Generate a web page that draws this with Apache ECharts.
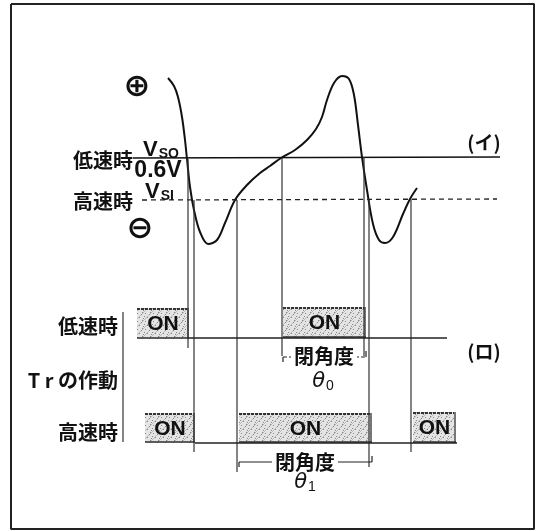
<!DOCTYPE html>
<html><head><meta charset="utf-8">
<script src="https://cdn.jsdelivr.net/npm/echarts@6/dist/echarts.min.js"></script>
<style>html,body{margin:0;padding:0;background:#fff}#c{width:540px;height:531px}</style>
</head><body><div id="c"></div>
<script>
// ---- diagram data (diagram units: x = time/angle position, y = signal level position, top = 0) ----
const curvePoints = [[168,78],[174,86],[178,97],[182,117],[185,140],[187,159],[190,187],[194,210],[200,232],[208,244],[217,240],[225,223],[235,200],[247,185],[260,173],[270,166],[281,158],[295,150],[307,140],[316,129],[322,117],[327,100],[334,83],[342,76],[349,79],[354,95],[358,125],[362,157],[367,190],[373,224],[379,240],[385,243],[393,237],[403,214],[410,199],[417,188]];
const vsoLine = [[133,158],[500,157]];          // low-speed threshold (Vso = 0.6V)
const vs1Line = [[142,200],[497,199]];          // high-speed threshold (Vs1)
const verticals = [[188,159,348],[194,200,452],[237,200,472],[282,158,356],[364,157,356],[369,200,467],[411,199,452]]; // [x, yTop, yBottom]
const lowBase = [[188,338],[447,338]];
const highBase = [[195,443],[457,443]];
const lowOn = [[137,189,308,339],[283,366,307,338]];            // [x1,x2,y1,y2]
const highOn = [[145,195,413,443],[239,372,413,443],[413,456,412,443]];
const bracket0 = [283,366,357];   // θ0 closed-angle span
const bracket1 = [239,372,462];   // θ1 closed-angle span
const sideBracket = [[123,312],[123,442]];
const frame = [[11,4],[534,4],[534,529],[11,529],[11,4]];
const rightLabels = [['低速時',133,160],['高速時',133,201],['低速時',118,326],['T r の作動',118,380],['高速時',118,432]];
const centerLabels = [['0.6V',158,171],['(イ)',484,143],['(ロ)',484,352]];
const signLabels = [['⊕',137,87],['⊖',140,229]];
const vLabels = [['SO',143,150],['SI',145,192]];
const angleLabels = [['閉角度',324,356],['閉角度',305,462]];
const thetaLabels = [['0',323,382],['1',305,483]];

// ---- pattern for ON boxes ----
function makePattern(){
  const c=document.createElement('canvas'); c.width=8; c.height=8;
  const g=c.getContext('2d');
  g.fillStyle='#e4e4e4'; g.fillRect(0,0,8,8);
  g.fillStyle='#8a8a8a';
  [[1,1],[5,2],[3,5],[7,6],[0,4],[6,0]].forEach(p=>g.fillRect(p[0],p[1],1,1));
  g.strokeStyle='rgba(120,120,120,0.55)'; g.lineWidth=0.7;
  g.beginPath(); g.moveTo(0,8); g.lineTo(8,0); g.stroke();
  return c;
}
const pat = {image: makePattern(), repeat:'repeat'};

const chart = echarts.init(document.getElementById('c'));
const lineBase = {type:'line', showSymbol:false, symbol:'none', animation:false, silent:true};
const series = [];
function seg(data, color, width, dash){
  series.push(Object.assign({}, lineBase, {data, lineStyle:{color, width, type: dash||'solid'}}));
}
seg(frame,'#222',2);
series.push(Object.assign({}, lineBase, {data:curvePoints, smooth:0.35, lineStyle:{color:'#111', width:2}}));
seg(vsoLine,'#111',1.6);
seg(vs1Line,'#222',1.3,[5,4]);
verticals.forEach(v=>seg([[v[0],v[1]],[v[0],v[2]]],'#333',1.2));
seg(lowBase,'#222',1.4);
seg(highBase,'#222',1.4);
seg(sideBracket,'#333',1.2);
[bracket0, bracket1].forEach((b,i)=>{
  seg([[b[0],b[2]],[b[1],b[2]]],'#222',1.2, i===0?[4,2]:'solid');
  seg([[b[1],b[2]-6],[b[1],b[2]]],'#222',1.2);
  seg([[b[0],b[2]],[b[0],b[2]+5]],'#222',1.2);
});

function boxRender(params, api){
  const p1 = api.coord([api.value(0), api.value(2)]);
  const p2 = api.coord([api.value(1), api.value(3)]);
  const w = p2[0]-p1[0], h = p2[1]-p1[1];
  return {type:'group', children:[
    {type:'rect', shape:{x:p1[0], y:p1[1], width:w, height:h}, style:{fill:pat}},
    {type:'line', shape:{x1:p1[0], y1:p1[1]+1, x2:p2[0], y2:p1[1]+1}, style:{stroke:'#333', lineWidth:2.2, lineDash:[3,1]}},
    {type:'line', shape:{x1:p2[0]-1, y1:p1[1], x2:p2[0]-1, y2:p2[1]}, style:{stroke:'#777', lineWidth:2}},
    {type:'line', shape:{x1:p1[0], y1:p2[1]-1, x2:p2[0], y2:p2[1]-1}, style:{stroke:'#333', lineWidth:1.6}},
    {type:'text', style:{text:'ON', x:p1[0]+w/2, y:p1[1]+h/2+1, align:'center', verticalAlign:'middle', font:'bold 21px "Liberation Sans", Arial', fill:'#111'}}
  ]};
}
series.push({type:'custom', animation:false, data:lowOn.concat(highOn), renderItem:boxRender, z:3});

function textSeries(list, make){
  series.push({type:'custom', animation:false, z:5, data:list.map(l=>[l[1],l[2]]),
    renderItem:(params, api)=>{ const p=api.coord([api.value(0),api.value(1)]); return make(list[params.dataIndex][0], p); }});
}
const jp = '"Noto Sans CJK JP", sans-serif';
textSeries(rightLabels,(t,p)=>({type:'text', style:{text:t, x:p[0], y:p[1], align:'right', verticalAlign:'middle', font:'bold 20px '+jp, fill:'#111'}}));
textSeries(centerLabels,(t,p)=>{
  let font = 'bold 19px '+jp;
  if(t==='0.6V') font='bold 23px "Liberation Sans", Arial';
  return {type:'text', style:{text:t, x:p[0], y:p[1], align:'center', verticalAlign:'middle', font, fill:'#111'}};
});
textSeries(signLabels,(t,p)=>({type:'text', style:{text:t, x:p[0], y:p[1]+1, align:'center', verticalAlign:'middle', font:'bold 32px "DejaVu Sans"', fill:'#111'}}));
textSeries(vLabels,(t,p)=>({type:'text', style:{text:'{v|V}{s|'+t+'}', x:p[0], y:p[1], align:'left', verticalAlign:'middle',
  rich:{v:{font:'bold 22px "Liberation Sans", Arial', fill:'#111', verticalAlign:'bottom'}, s:{font:'bold 14px "Liberation Sans", Arial', fill:'#111', verticalAlign:'bottom', padding:[0,0,0,1]}}}}));
textSeries(angleLabels,(t,p)=>({type:'text', style:{text:t, x:p[0], y:p[1], align:'center', verticalAlign:'middle', font:'bold 20px '+jp, fill:'#111', backgroundColor:'#fff', padding:[0,3]}}));
textSeries(thetaLabels,(t,p)=>({type:'text', style:{text:'{t|θ}{s|'+t+'}', x:p[0], y:p[1], align:'center', verticalAlign:'middle',
  rich:{t:{font:'italic 21px "DejaVu Sans", sans-serif', fill:'#111'}, s:{font:'14px "Liberation Sans", Arial', fill:'#111', padding:[8,0,0,1]}}}}));

chart.setOption({
  animation:false,
  grid:{left:0,right:0,top:0,bottom:0},
  xAxis:{type:'value', min:0, max:540, show:false},
  yAxis:{type:'value', min:0, max:531, inverse:true, show:false},
  series
});
</script></body></html>
